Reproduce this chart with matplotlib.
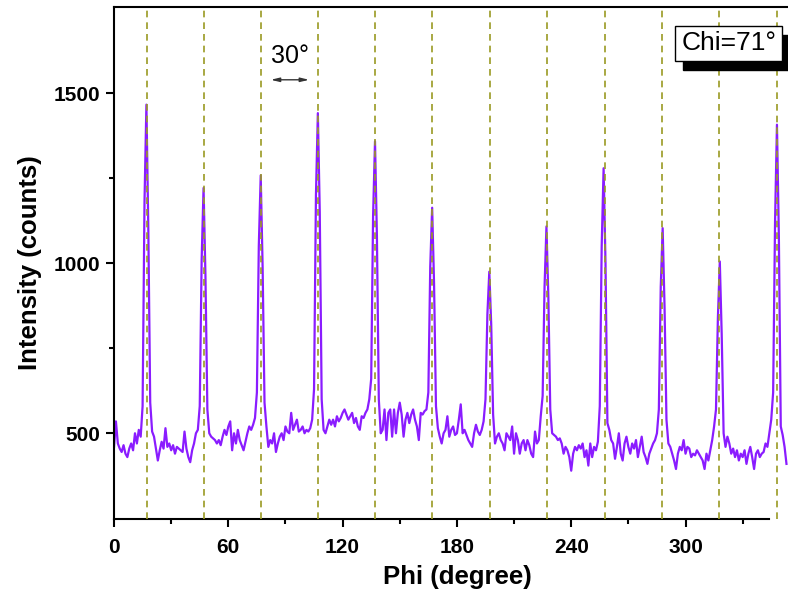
import numpy as np
import matplotlib
matplotlib.use("Agg")
import matplotlib.pyplot as plt
import matplotlib.transforms as mtransforms

plt.rcParams['font.family'] = ['Liberation Sans', 'DejaVu Sans']

# phi scan, 1 degree steps from 0
intensity = [
    460, 535, 470, 455, 445, 465, 440, 430, 455, 470,
    450, 500, 470, 510, 490, 580, 1180, 1466, 1100, 590,
    505, 490, 455, 420, 450, 475, 455, 515, 460, 470,
    450, 465, 440, 460, 455, 450, 445, 505, 455, 430,
    415, 450, 470, 500, 510, 580, 1010, 1221, 960, 570,
    500, 490, 485, 480, 470, 480, 465, 490, 510, 495,
    520, 535, 450, 500, 470, 510, 480, 465, 450, 475,
    500, 520, 510, 525, 545, 620, 1050, 1258, 990, 590,
    520, 460, 480, 470, 500, 445, 470, 490, 500, 480,
    520, 505, 500, 560, 510, 525, 540, 505, 510, 520,
    500, 510, 505, 515, 540, 630, 1200, 1441, 1150, 600,
    510, 500, 520, 540, 525, 540, 520, 550, 535, 545,
    560, 570, 555, 540, 550, 560, 530, 545, 520, 510,
    550, 545, 560, 570, 600, 660, 1140, 1358, 1080, 600,
    500, 510, 570, 480, 560, 570, 490, 570, 500, 560,
    590, 555, 490, 540, 560, 530, 555, 570, 540, 520,
    480, 560, 555, 565, 570, 620, 990, 1163, 940, 580,
    515, 490, 470, 500, 510, 550, 490, 510, 520, 495,
    500, 540, 585, 500, 510, 495, 480, 470, 460, 500,
    525, 505, 495, 510, 535, 600, 850, 975, 820, 555,
    470, 490, 500, 480, 470, 450, 500, 490, 480, 520,
    440, 500, 480, 440, 470, 480, 450, 480, 465, 440,
    430, 505, 470, 480, 550, 610, 930, 1108, 900, 570,
    500, 495, 490, 480, 485, 470, 440, 460, 450, 430,
    390, 440, 460, 450, 465, 455, 470, 430, 450, 405,
    470, 430, 460, 450, 475, 580, 1050, 1279, 1000, 530,
    510, 480, 470, 425, 460, 500, 440, 420, 470, 490,
    460, 440, 470, 455, 480, 430, 460, 490, 445, 430,
    410, 440, 455, 470, 480, 500, 570, 930, 1103, 870,
    540, 470, 460, 440, 420, 395, 440, 460, 450, 480,
    440, 460, 455, 430, 440, 435, 450, 440, 430, 420,
    395, 440, 420, 450, 480, 520, 570, 840, 1005, 790,
    500, 460, 490, 470, 440, 455, 430, 450, 420, 440,
    430, 450, 410, 440, 460, 430, 395, 440, 450, 430,
    440, 445, 470, 460, 500, 540, 620, 1120, 1407, 1080,
    520, 495, 460, 410,
]
phi = np.arange(len(intensity))

peak_lines = [17.3, 47.1, 77.2, 107.0, 137.0, 167.1, 197.4, 227.4,
              257.5, 287.6, 317.8, 347.9]

fig = plt.figure(figsize=(7.88, 5.92), dpi=100)
ax = fig.add_axes([0.1447, 0.1233, 0.8553, 0.8649])

ax.plot(phi, intensity, color='#8a1cff', lw=1.6, zorder=2)
for p in peak_lines:
    ax.axvline(p, color='#9a9a22', lw=1.2, ls=(0, (4, 3)), zorder=3)

ax.set_xlim(0, 353.8)
ax.set_ylim(248, 1753)
ax.set_xticks([0, 60, 120, 180, 240, 300])
ax.set_xticks([30, 90, 150, 210, 270, 330], minor=True)
ax.set_yticks([500, 1000, 1500])
ax.set_yticks([750, 1250], minor=True)

ax.spines['right'].set_visible(False)
ax.spines['bottom'].set_bounds(0, 343.8)
for s in ['left', 'bottom', 'top']:
    ax.spines[s].set_linewidth(1.5)
ax.tick_params(which='major', direction='out', length=6, width=1.5,
               labelsize=15)
ax.tick_params(axis='x', which='major', pad=8)
ax.tick_params(axis='y', which='major', pad=4)
ax.tick_params(which='minor', direction='out', length=3.5, width=1.5)
ax.tick_params(top=False, right=False)
for lbl in ax.get_xticklabels() + ax.get_yticklabels():
    lbl.set_fontweight('bold')

ax.set_xlabel('Phi (degree)', fontsize=18.5, fontweight='bold')
ax.set_ylabel('Intensity (counts)', fontsize=18.5, fontweight='bold')
ax.xaxis.set_label_coords(0.509, -0.09)
ax.yaxis.set_label_coords(-0.107, 0.5)

# 30 degree spacing marker
ax.annotate('', xy=(80.8, 1539), xytext=(103.9, 1539),
            arrowprops=dict(arrowstyle='<|-|>,head_length=0.5,head_width=0.12',
                            color='#333333', lw=1))
ax.text(92.4, 1610, '30°', fontsize=18, ha='center', va='center')

# label box with shadow
shadow = mtransforms.offset_copy(ax.transAxes, fig=fig, x=8, y=-9, units='dots')
ax.text(0.912, 0.929, 'Chi=71°', transform=shadow, fontsize=19, color='black',
        ha='center', va='center',
        bbox=dict(boxstyle='square,pad=0.22', fc='black', ec='black'), zorder=5)
ax.text(0.912, 0.929, 'Chi=71°', transform=ax.transAxes, fontsize=19,
        ha='center', va='center',
        bbox=dict(boxstyle='square,pad=0.22', fc='white', ec='black', lw=1),
        zorder=6)

fig.savefig('out.png', dpi=100)
